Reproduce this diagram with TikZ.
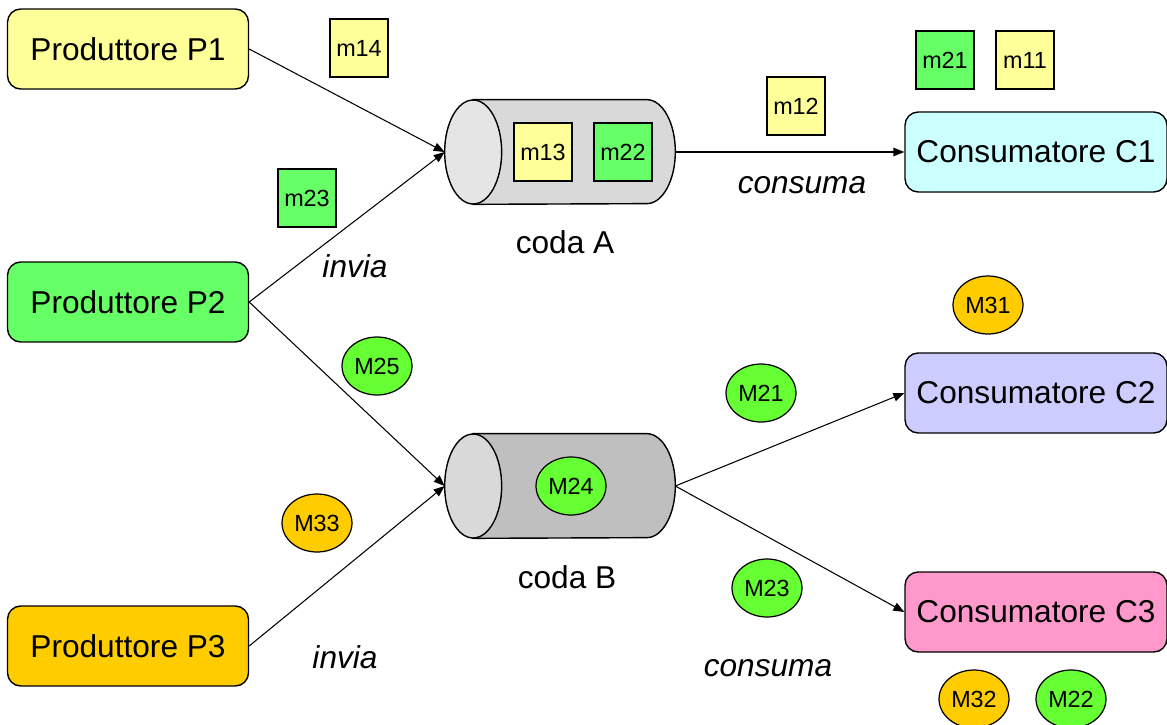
\documentclass[tikz,border=0pt]{standalone}
\usepackage{fontspec}
\setmainfont{Liberation Sans}
\usetikzlibrary{shapes.geometric,arrows.meta}

\definecolor{giallo}{HTML}{FFFF99}
\definecolor{verde}{HTML}{66FF66}
\definecolor{verdeM}{HTML}{66FF33}
\definecolor{arancio}{HTML}{FFCC00}
\definecolor{ciano}{HTML}{CCFFFF}
\definecolor{lilla}{HTML}{CCCCFF}
\definecolor{rosa}{HTML}{FF99CC}

\tikzset{
  attore/.style={draw, line width=0.8pt, rounded corners=7.5pt, minimum width=4.82cm,
    minimum height=1.6cm, inner sep=0pt, font=\fontsize{18}{20}\selectfont},
  msgq/.style={draw, line width=0.7pt, minimum size=1.16cm, inner sep=0pt,
    font=\fontsize{13.3}{15}\selectfont},
  msgt/.style={draw, ellipse, line width=0.7pt, minimum width=1.4cm, minimum height=1.16cm,
    inner sep=0pt, font=\fontsize{13.3}{15}\selectfont},
  coda/.style={minimum width=4.6cm, minimum height=2.08cm, inner sep=0pt},
  tubo/.style={draw, line width=0.8pt},
  freccia/.style={-{Triangle[length=2.2mm,width=1.7mm]}, line width=0.6pt},
  titolo/.style={font=\fontsize{18}{20}\selectfont},
  etichetta/.style={font=\fontsize{18}{20}\selectfont\itshape}
}

\begin{document}
\begin{tikzpicture}[x=0.02cm, y=-0.02cm]
\useasboundingbox (0,0) rectangle (1167,724);
% produttori e consumatori
\node[attore, fill=giallo] (p1) at (128,49) {Produttore P1};
\node[attore, fill=verde] (p2) at (128,302) {Produttore P2};
\node[attore, fill=arancio] (p3) at (128,646) {Produttore P3};
\node[attore, minimum width=5.24cm, fill=ciano] (c1) at (1036,152) {Consumatore C1};
\node[attore, minimum width=5.24cm, fill=lilla] (c2) at (1036,393) {Consumatore C2};
\node[attore, minimum width=5.24cm, fill=rosa] (c3) at (1036,612) {Consumatore C3};
% code
\node[coda] (codaA) at (560,152) {};
\node[coda] (codaB) at (560,486) {};
\draw[tubo, fill=black!15] ([xshift=0.57cm]codaA.north west) -- ([xshift=-0.57cm]codaA.north east)
  arc[start angle=90, end angle=-90, x radius=0.57cm, y radius=1.04cm]
  -- ([xshift=0.57cm]codaA.south west) -- cycle;
\draw[tubo, fill=black!10] ([xshift=0.57cm]codaA.west) ellipse [x radius=0.57cm, y radius=1.04cm];
\draw[tubo, fill=black!25] ([xshift=0.57cm]codaB.north west) -- ([xshift=-0.57cm]codaB.north east)
  arc[start angle=90, end angle=-90, x radius=0.57cm, y radius=1.04cm]
  -- ([xshift=0.57cm]codaB.south west) -- cycle;
\draw[tubo, fill=black!15] ([xshift=0.57cm]codaB.west) ellipse [x radius=0.57cm, y radius=1.04cm];
\node[titolo] (nomeA) at (565,242) {coda A};
\node[titolo] (nomeB) at (567,577) {coda B};
% connettori
\draw[freccia] (p1.east) -- (codaA.west);
\draw[freccia] (p2.east) -- (codaA.west);
\draw[freccia] (p2.east) -- (codaB.west);
\draw[freccia] (p3.east) -- (codaB.west);
\draw[freccia] (codaA.east) -- (c1.west);
\draw[freccia] (codaB.east) -- (c2.west);
\draw[freccia] (codaB.east) -- (c3.west);
\node[etichetta] (inviaA) at (355,266) {invia};
\node[etichetta] (inviaB) at (345,657) {invia};
\node[etichetta] (consumaA) at (802,185) {consuma};
\node[etichetta] (consumaB) at (768,668) {consuma};
% messaggi coda A
\node[msgq, fill=giallo] (m14) at (359,48) {m14};
\node[msgq, fill=verde] (m23) at (307,198) {m23};
\node[msgq, fill=giallo] (m13) at (543,152) {m13};
\node[msgq, fill=verde] (m22) at (623,152) {m22};
\node[msgq, fill=giallo] (m12) at (796,106) {m12};
\node[msgq, fill=verde] (m21) at (945,60) {m21};
\node[msgq, fill=giallo] (m11) at (1025,60) {m11};
% messaggi coda B
\node[msgt, fill=verdeM] (M25) at (377,366) {M25};
\node[msgt, fill=arancio] (M33) at (317,523) {M33};
\node[msgt, fill=verdeM] (M24) at (571,486) {M24};
\node[msgt, fill=verdeM] (M21) at (761,393) {M21};
\node[msgt, fill=verdeM] (M23) at (767,588) {M23};
\node[msgt, fill=arancio] (M31) at (988,305) {M31};
\node[msgt, fill=arancio] (M32) at (974,699) {M32};
\node[msgt, fill=verdeM] (M22) at (1071,699) {M22};
\end{tikzpicture}
\end{document}
